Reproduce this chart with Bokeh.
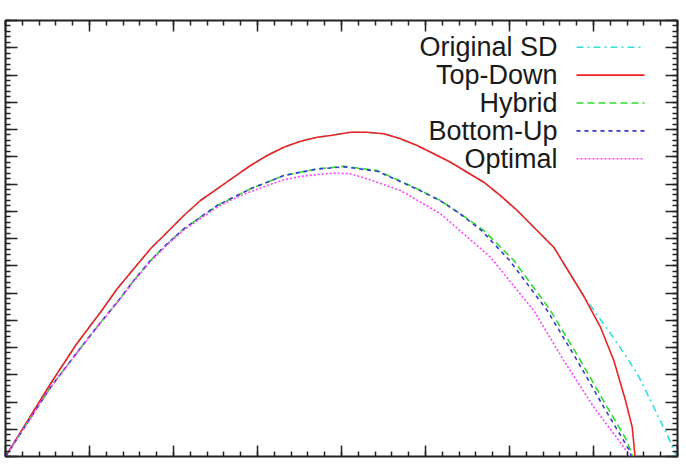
from bokeh.plotting import figure
from bokeh.models import Range1d, LinearAxis, SingleIntervalTicker, Label, Arrow, CustomJSTickFormatter
from bokeh.embed import file_html
from bokeh.resources import INLINE

# ---- data ----
td_x = [0, 0.536, 0.844, 1.131, 1.330, 1.527, 1.726, 1.925, 2.123, 2.321, 2.520, 2.718, 2.917,
        3.115, 3.313, 3.512, 3.711, 3.869, 4.107, 4.306, 4.504, 4.702, 4.901, 5.099, 5.298,
        5.496, 5.694, 5.893, 6.092, 6.527, 6.885, 7.083, 7.242, 7.381, 7.461, 7.492, 7.494]
td_y = [0, 2.67, 4.12, 5.295, 6.154, 6.888, 7.622, 8.231, 8.844, 9.394, 9.824, 10.25, 10.679,
        11.046, 11.35, 11.571, 11.717, 11.78, 11.9, 11.9, 11.842, 11.659, 11.413, 11.108, 10.80,
        10.43, 10.066, 9.57, 9.028, 7.681, 5.88, 4.745, 3.523, 2.055, 1.075, 0.099, 0]

sd_x = [0, 0.536, 0.844, 1.131, 1.330, 1.527, 1.726, 1.925, 2.123, 2.321, 2.520, 2.718, 2.917,
        3.115, 3.313, 3.512, 3.711, 3.869, 4.107, 4.306, 4.504, 4.702, 4.901, 5.099, 5.298,
        5.496, 5.694, 5.893, 6.092, 6.527, 6.885, 7.094, 7.202, 7.405, 7.536, 7.679, 7.82,
        7.877, 7.976, 7.99]
sd_y = [0, 2.67, 4.12, 5.295, 6.154, 6.888, 7.622, 8.231, 8.844, 9.394, 9.824, 10.25, 10.679,
        11.046, 11.35, 11.571, 11.717, 11.78, 11.9, 11.9, 11.842, 11.659, 11.413, 11.108, 10.80,
        10.43, 10.066, 9.57, 9.028, 7.681, 5.88, 4.98, 4.52, 3.6, 2.95, 2.06, 1.15,
        0.8, 0.1, 0]

hy_x = [0, 0.536, 0.922, 1.15, 1.330, 1.527, 1.726, 1.925, 2.123, 2.321, 2.520, 2.718, 2.917,
        3.115, 3.313, 3.512, 3.711, 3.869, 4.028, 4.425, 4.901, 5.179, 5.417, 5.694, 6.05,
        6.488, 6.845, 7.163, 7.38, 7.46, 7.464]
hy_y = [0, 2.54, 4.1, 4.99, 5.662, 6.459, 7.193, 7.806, 8.356, 8.782, 9.211, 9.516, 9.824,
        10.066, 10.312, 10.433, 10.558, 10.6, 10.65, 10.495, 9.824, 9.394, 8.906, 8.294, 7.2,
        5.358, 3.523, 1.809, 0.68, 0.1, 0]

bu_x = [0, 0.536, 0.922, 1.15, 1.330, 1.527, 1.726, 1.925, 2.123, 2.321, 2.520, 2.718, 2.917,
        3.115, 3.313, 3.512, 3.711, 3.869, 4.028, 4.425, 4.901, 5.179, 5.417, 5.667, 6.0,
        6.449, 6.806, 7.123, 7.34, 7.44, 7.446]
bu_y = [0, 2.54, 4.1, 4.99, 5.662, 6.459, 7.193, 7.806, 8.356, 8.782, 9.211, 9.516, 9.824,
        10.066, 10.312, 10.433, 10.55, 10.59, 10.63, 10.47, 9.81, 9.38, 8.89, 8.294, 7.2,
        5.358, 3.523, 1.809, 0.68, 0.158, 0]

op_x = [0, 0.536, 0.922, 1.15, 1.330, 1.527, 1.726, 1.925, 2.123, 2.321, 2.520, 2.718, 2.917,
        3.115, 3.313, 3.512, 3.711, 3.905, 4.1, 4.306, 4.702, 5.179, 5.774, 6.29, 6.646,
        7.004, 7.405, 7.417]
op_y = [0, 2.53, 4.08, 4.97, 5.64, 6.43, 7.16, 7.77, 8.31, 8.73, 9.15, 9.46, 9.72,
        9.945, 10.154, 10.275, 10.349, 10.40, 10.38, 10.191, 9.761, 8.906, 7.314, 5.35, 3.523,
        1.809, 0.158, 0]

series_names = ["Original SD", "Top-Down", "Hybrid", "Bottom-Up", "Optimal"]
series_x = [sd_x, td_x, hy_x, bu_x, op_x]
series_y = [sd_y, td_y, hy_y, bu_y, op_y]
series_colors = ["#33dede", "#ee2222", "#2fdd2f", "#3a3ad0", "#ff44ff"]
series_dash = ["7 4 2 4", "solid", "7 4", "4 4", "2 2"]

X_MIN, X_MAX = 0, 8
Y_MIN, Y_MAX = 0, 16

W, H = 680, 460
p = figure(width=W, height=H, frame_width=672, frame_height=436,
           output_backend="svg", toolbar_location=None,
           x_range=Range1d(X_MIN, X_MAX), y_range=Range1d(Y_MIN, Y_MAX),
           x_axis_location=None, y_axis_location=None,
           min_border_left=5, min_border_right=3, min_border_top=20, min_border_bottom=4)
p.grid.visible = False
p.outline_line_color = "#222222"
p.outline_line_width = 2
p.background_fill_color = "white"
p.border_fill_color = "white"

for loc in ["left", "right", "above", "below"]:
    ax = LinearAxis(ticker=SingleIntervalTicker(interval=1, num_minor_ticks=5))
    ax.formatter = CustomJSTickFormatter(code="return ''")
    ax.major_label_standoff = 0
    ax.axis_line_color = None
    ax.major_tick_in = 11 if loc in ("above", "below") else 12
    ax.major_tick_out = 0
    ax.minor_tick_in = 5
    ax.minor_tick_out = 0
    ax.major_tick_line_color = "#222222"
    ax.minor_tick_line_color = "#222222"
    ax.major_tick_line_width = 1.5
    ax.minor_tick_line_width = 1.5
    p.add_layout(ax, loc)

for xs, ys, c, d in zip(series_x, series_y, series_colors, series_dash):
    p.line(xs, ys, line_color=c, line_width=1.6, line_dash=d)

# ---- gnuplot-style key (label right-aligned, sample to its right) ----
# screen units here are measured from the frame's bottom-left corner
FRAME_H = 436
key_text_right = 552
key_sample_x0, key_sample_x1 = 571, 639
key_top = 26.7          # distance of first entry below the frame top
key_step = 27.9
for i, (name, c, d) in enumerate(zip(series_names, series_colors, series_dash)):
    ys = FRAME_H - (key_top + i * key_step)
    p.add_layout(Label(x=key_text_right, y=ys, x_units="screen", y_units="screen",
                       text=name, text_align="right", text_baseline="middle",
                       text_font="Liberation Sans", text_font_size="27px",
                       text_color="#1a1a1a"))
    p.add_layout(Arrow(end=None, x_start=key_sample_x0, y_start=ys,
                       x_end=key_sample_x1, y_end=ys,
                       start_units="screen", end_units="screen",
                       line_color=c, line_width=1.6, line_dash=d))

open("out.html", "w").write(file_html(p, INLINE))
